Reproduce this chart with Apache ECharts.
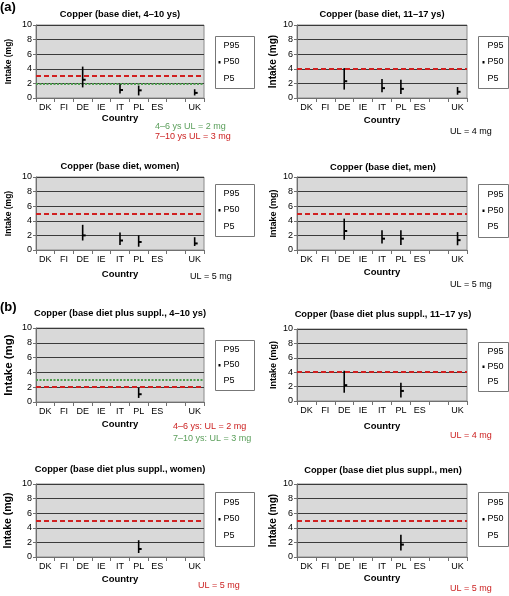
<!DOCTYPE html>
<html><head><meta charset="utf-8">
<script src="https://cdn.jsdelivr.net/npm/echarts@6/dist/echarts.min.js"></script>
<style>html,body{margin:0;padding:0;background:#fff}#c{width:509px;height:596px}</style>
</head><body><div id="c"></div>
<script>
// ---- categories & axis ----
const countries = ['DK','FI','DE','IE','IT','PL','ES','','UK'];
const yMin = 0, yMax = 10, yStep = 2;

// ---- (a) base diet: P5 / P50 / P95 (mg) ----
const a1P5  = [null,null,1.45,null,0.6,0.35,null,null,0.35];
const a1P50 = [null,null,2.5,null,1.1,1.05,null,null,0.7];
const a1P95 = [null,null,4.3,null,1.9,1.7,null,null,1.2];
const a2P5  = [null,null,1.15,null,0.8,0.55,null,null,0.45];
const a2P50 = [null,null,2.3,null,1.35,1.25,null,null,0.85];
const a2P95 = [null,null,4.1,null,2.6,2.5,null,null,1.5];
const a3P5  = [null,null,1.3,null,0.7,0.45,null,null,0.55];
const a3P50 = [null,null,2.0,null,1.3,1.1,null,null,0.9];
const a3P95 = [null,null,3.45,null,2.4,2.0,null,null,1.75];
const a4P5  = [null,null,1.4,null,0.9,0.7,null,null,0.65];
const a4P50 = [null,null,2.6,null,1.55,1.55,null,null,1.35];
const a4P95 = [null,null,4.3,null,2.7,2.7,null,null,2.45];
// ---- (b) base diet plus supplements ----
const b1P5  = [null,null,null,null,null,0.55,null,null,null];
const b1P50 = [null,null,null,null,null,1.05,null,null,null];
const b1P95 = [null,null,null,null,null,1.9,null,null,null];
const b2P5  = [null,null,1.15,null,null,0.5,null,null,null];
const b2P50 = [null,null,2.2,null,null,1.4,null,null,null];
const b2P95 = [null,null,4.2,null,null,2.55,null,null,null];
const b3P5  = [null,null,null,null,null,0.55,null,null,null];
const b3P50 = [null,null,null,null,null,1.1,null,null,null];
const b3P95 = [null,null,null,null,null,2.3,null,null,null];
const b4P5  = [null,null,null,null,null,0.9,null,null,null];
const b4P50 = [null,null,null,null,null,1.7,null,null,null];
const b4P95 = [null,null,null,null,null,3.05,null,null,null];

// ---- upper levels (mg) ----
const ulRed   = [3, 4, 5, 5, 2, 4, 5, 5];
const ulGreen = [2, null, null, null, 3, null, null, null];

const titles = [
  'Copper (base diet, 4\u201310 ys)', 'Copper (base diet, 11\u201317 ys)',
  'Copper (base diet, women)', 'Copper (base diet, men)',
  'Copper (base diet plus suppl., 4\u201310 ys)', 'Copper (base diet plus suppl., 11\u201317 ys)',
  'Copper (base diet plus suppl., women)', 'Copper (base diet plus suppl., men)'
];
const notes = [
  [['4\u20136 ys UL = 2 mg','#5a9e5a'],['7\u201310 ys UL = 3 mg','#cc2222']],
  [['UL = 4 mg','#000']],
  [['UL = 5 mg','#000']],
  [['UL = 5 mg','#000']],
  [['4\u20136 ys: UL = 2 mg','#cc2222'],['7\u201310 ys: UL = 3 mg','#5a9e5a']],
  [['UL = 4 mg','#cc2222']],
  [['UL = 5 mg','#cc2222']],
  [['UL = 5 mg','#cc2222']]
];
const pData = [
  [a1P5,a1P50,a1P95],[a2P5,a2P50,a2P95],[a3P5,a3P50,a3P95],[a4P5,a4P50,a4P95],
  [b1P5,b1P50,b1P95],[b2P5,b2P50,b2P95],[b3P5,b3P50,b3P95],[b4P5,b4P50,b4P95]
];

// ---- layout ----
const FF = '"Liberation Sans", Arial, sans-serif';
const L = [
  {l:36, t:25,  w:168, h:73, tx:120, ty:16,  ng:23, xg:15, yn:8.5, lb:[215,36,39,52],  nx:155, ny:[127,137]},
  {l:297,t:25,  w:170, h:73, tx:382, ty:16,  ng:19, xg:17, yn:10,  lb:[478,36,30,52],  nx:450, ny:[132]},
  {l:36, t:177, w:168, h:73, tx:120, ty:168, ng:23, xg:19, yn:8.5, lb:[215,184,39,52], nx:190, ny:[277]},
  {l:297,t:177, w:170, h:73, tx:383, ty:169, ng:19, xg:17, yn:9,   lb:[478,184,30,53], nx:450, ny:[285]},
  {l:36, t:328, w:168, h:74, tx:120, ty:315, ng:21, xg:17, yn:11.5,lb:[215,340,39,50], nx:173, ny:[427,439]},
  {l:297,t:329, w:170, h:72, tx:383, ty:316, ng:19, xg:20, yn:9,   lb:[478,342,30,49], nx:450, ny:[436]},
  {l:36, t:484, w:168, h:73, tx:120, ty:471, ng:22, xg:17, yn:10.5,lb:[215,492,39,54], nx:198, ny:[586]},
  {l:297,t:484, w:170, h:73, tx:383, ty:472, ng:19, xg:16, yn:10,  lb:[478,492,30,54], nx:450, ny:[589]}
];

const grid = [], xAxis = [], yAxis = [], series = [], title = [], graphic = [];
L.forEach((p, i) => {
  grid.push({left:p.l, top:p.t, width:p.w, height:p.h, show:true,
    backgroundColor:'#d9d9d9', borderColor:'#8a8a8a', borderWidth:1});
  xAxis.push({type:'category', gridIndex:i, data:countries, boundaryGap:true,
    name:'Country', nameLocation:'middle', nameGap:p.xg,
    nameTextStyle:{fontFamily:FF, fontWeight:'bold', fontSize:9.5, color:'#000'},
    axisLine:{lineStyle:{color:'#707070'}},
    axisTick:{show:true, interval:0, length:4, lineStyle:{color:'#707070'}},
    axisLabel:{interval:0, fontFamily:FF, fontSize:9, color:'#000', margin:5},
    splitLine:{show:false}});
  yAxis.push({type:'value', gridIndex:i, min:yMin, max:yMax, interval:yStep,
    name:'Intake (mg)', nameLocation:'middle', nameGap:p.ng,
    nameTextStyle:{fontFamily:FF, fontWeight:'bold', fontSize:p.yn, color:'#000'},
    axisLine:{show:true, lineStyle:{color:'#707070'}},
    axisTick:{show:true, length:3, lineStyle:{color:'#707070'}},
    axisLabel:{fontFamily:FF, fontSize:9, color:'#000', margin:4},
    splitLine:{show:true, lineStyle:{color:'#3a3a3a', width:1}}});
  title.push({text:titles[i], left:p.tx, top:p.ty - 6, textAlign:'center',
    textStyle:{fontFamily:FF, fontWeight:'bold', fontSize:9.3, color:'#000'}, padding:0});

  const [p5, p50, p95] = pData[i];
  const data = [];
  countries.forEach((c, k) => { if (p95[k] != null) data.push([k, p5[k], p50[k], p95[k]]); });
  const ml = [{yAxis: ulRed[i], lineStyle:{color:'#d02020', type:[5,3], width:2}}];
  if (ulGreen[i] != null) ml.push({yAxis: ulGreen[i], lineStyle:{color:'#4f9f4f', type:[2,1.5], width:2}});
  series.push({type:'custom', xAxisIndex:i, yAxisIndex:i, z:5, data:data,
    encode:{x:0, y:[1,2,3]},
    renderItem:function(params, api){
      const x = api.value(0);
      const top = api.coord([x, api.value(3)]);
      const bot = api.coord([x, api.value(1)]);
      const mid = api.coord([x, api.value(2)]);
      return {type:'group', children:[
        {type:'line', shape:{x1:top[0], y1:top[1], x2:bot[0], y2:bot[1]}, style:{stroke:'#000', lineWidth:1.6}},
        {type:'rect', shape:{x:mid[0], y:mid[1]-1, width:3, height:2}, style:{fill:'#000'}}
      ]};
    },
    markLine:{silent:true, symbol:'none', z:3, label:{show:false}, animation:false, data:ml}
  });

  // legend box
  const [bx, by, bw, bh] = p.lb;
  graphic.push({type:'rect', shape:{x:bx+0.5, y:by+0.5, width:bw, height:bh},
    style:{fill:'#fff', stroke:'#777', lineWidth:1}});
  const tx = bx + (bw > 35 ? 8.5 : 9.5);
  const ys = [by + bh*0.19, by + bh*0.5, by + bh*0.81];
  ['P95','P50','P5'].forEach((s, k) => {
    graphic.push({type:'text', x:tx, y:ys[k], style:{text:s, font:'9px ' + FF, fill:'#000', align:'left', verticalAlign:'middle'}});
  });
  graphic.push({type:'rect', shape:{x:tx-5, y:ys[1]-1, width:2, height:2.5}, style:{fill:'#000'}});
  // UL notes
  notes[i].forEach((n, k) => {
    graphic.push({type:'text', x:p.nx, y:p.ny[k], style:{text:n[0], font:'9px ' + FF, fill:n[1], align:'left', verticalAlign:'middle'}});
  });
});
graphic.push({type:'text', x:0, y:7, style:{text:'(a)', font:'bold 13px ' + FF, fill:'#000', align:'left', verticalAlign:'middle'}});
graphic.push({type:'text', x:0, y:307, style:{text:'(b)', font:'bold 13px ' + FF, fill:'#000', align:'left', verticalAlign:'middle'}});

const chart = echarts.init(document.getElementById('c'), null, {renderer:'canvas'});
chart.setOption({animation:false, backgroundColor:'#fff', title, grid, xAxis, yAxis, series, graphic});
</script></body></html>
